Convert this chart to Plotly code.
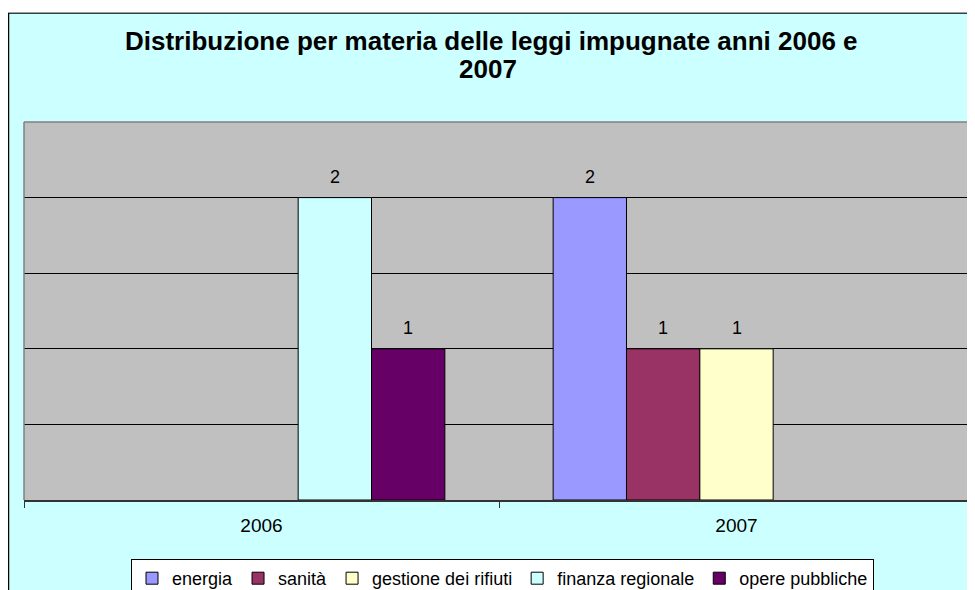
import plotly.graph_objects as go

categories = ["2006", "2007"]
series_names = ["energia", "sanità", "gestione dei rifiuti", "finanza regionale", "opere pubbliche"]
energia = [None, 2]
sanita = [None, 1]
gestione = [None, 1]
finanza = [2, None]
opere = [1, None]
colors = ["#9999FF", "#993366", "#FFFFCC", "#CCFFFF", "#660066"]
title_lines = ["Distribuzione per materia delle leggi impugnate anni 2006 e", "2007"]

values = [energia, sanita, gestione, finanza, opere]
FONT = "Liberation Sans, Arial, sans-serif"
BARGAP = 0.228

fig = go.Figure()
for name, vals, col in zip(series_names, values, colors):
    fig.add_trace(go.Bar(
        x=categories, y=vals, name=name,
        marker=dict(color=col, line=dict(color="black", width=1)),
    ))

# page has an 8px body margin; figure coords = reference coords - 8
W, H = 967, 582
L, T, R, B = 16, 114, 1, 90
pw, ph = W - L - R, H - T - B

def px2x(px):
    return (px - L) / pw

def py2y(py):
    return (H - B - py) / ph

shapes = [
    dict(type="line", xref="paper", yref="paper", x0=px2x(0), x1=px2x(990), y0=py2y(5), y1=py2y(5),
         line=dict(color="black", width=1.5), layer="above"),
    dict(type="line", xref="paper", yref="paper", x0=px2x(0.5), x1=px2x(0.5), y0=py2y(5), y1=py2y(600),
         line=dict(color="black", width=1.5), layer="above"),
    dict(type="rect", xref="paper", yref="paper", x0=px2x(-5), x1=px2x(0), y0=py2y(600), y1=py2y(-5),
         fillcolor="white", line=dict(width=0), layer="above"),
    dict(type="rect", xref="paper", yref="paper", x0=px2x(-5), x1=px2x(990), y0=py2y(4.5), y1=py2y(-5),
         fillcolor="white", line=dict(width=0), layer="above"),
    # plot area border (gray)
    dict(type="line", xref="paper", yref="paper", x0=0, x1=1, y0=1, y1=1,
         line=dict(color="#808080", width=1.5), layer="above"),
    dict(type="line", xref="paper", yref="paper", x0=0, x1=0, y0=0, y1=1,
         line=dict(color="#808080", width=1.5), layer="above"),
    dict(type="line", xref="paper", yref="paper", x0=1, x1=1, y0=0, y1=1,
         line=dict(color="#808080", width=1.5), layer="above"),
]

annotations = [
    dict(text="<b>%s</b>" % title_lines[0], xref="paper", yref="paper",
         x=px2x(483.5), y=py2y(32.5), xanchor="center", yanchor="middle", showarrow=False,
         font=dict(family=FONT, size=26, color="black")),
    dict(text="<b>%s</b>" % title_lines[1], xref="paper", yref="paper",
         x=px2x(480), y=py2y(61), xanchor="center", yanchor="middle", showarrow=False,
         font=dict(family=FONT, size=26, color="black")),
]

# data labels above each bar, positioned in data units on the category axis
n = len(series_names)
slot = (1 - BARGAP) / n
for i, vals in enumerate(values):
    for ci, v in enumerate(vals):
        if v is None:
            continue
        annotations.append(dict(
            text=str(v), xref="x", yref="y", x=ci + (i - (n - 1) / 2) * slot, y=v,
            xanchor="center", yanchor="bottom", yshift=9, showarrow=False,
            font=dict(family=FONT, size=18, color="black"),
        ))

fig.update_layout(
    width=W, height=H,
    margin=dict(l=L, r=R, t=T, b=B, pad=0, autoexpand=False),
    paper_bgcolor="#CCFFFF",
    plot_bgcolor="#C0C0C0",
    barmode="group", bargap=BARGAP, bargroupgap=0,
    font=dict(family=FONT, color="black"),
    xaxis=dict(
        type="category", range=[-0.5, 1.5], tickson="boundaries",
        ticks="outside", ticklen=6, tickcolor="#333333", tickwidth=1,
        showline=True, linecolor="#333333", linewidth=1.5, ticklabelstandoff=7,
        showgrid=False, tickfont=dict(family=FONT, size=19, color="black"), fixedrange=True,
    ),
    yaxis=dict(
        range=[0, 2.5], dtick=0.5, showticklabels=False, ticks="",
        showgrid=True, gridcolor="black", gridwidth=1, zeroline=False,
        showline=False, fixedrange=True,
    ),
    legend=dict(
        orientation="h", x=px2x(123), y=py2y(551), xanchor="left", yanchor="top",
        bgcolor="white", bordercolor="black", borderwidth=1,
        font=dict(family=FONT, size=18, color="black"), itemclick=False, traceorder="normal",
        itemwidth=30,
    ),
    shapes=shapes,
    annotations=annotations,
    showlegend=True,
)

fig.write_html("out.html")
